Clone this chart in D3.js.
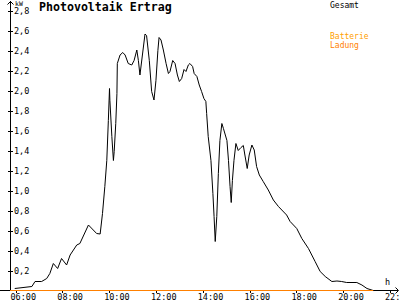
<!DOCTYPE html>
<html>
<head>
<meta charset="utf-8">
<script src="https://cdn.jsdelivr.net/npm/d3@7"></script>
<style>
  body { margin: 0; background: #fff; }
  svg { display: block; }
  text { font-family: "DejaVu Sans Mono", monospace; }
</style>
</head>
<body>
<div class="chart"></div>
<script>
// Gesamt (kW) ueber die Uhrzeit
var zeiten = ["05:58","06:42","06:50","07:07","07:20","07:28","07:37","07:48","07:58","08:11",
  "08:20","08:37","08:45","09:07","09:28","09:37","09:43","09:49","09:54","09:58",
  "10:01","10:02","10:07","10:11","10:13","10:17","10:20","10:21","10:28","10:35",
  "10:41","10:49","10:58","11:04","11:11","11:15","11:19","11:32","11:36","11:43",
  "11:49","11:55","12:00","12:05","12:08","12:13","12:19","12:26","12:32","12:36",
  "12:43","12:49","12:55","13:00","13:06","13:12","13:17","13:23","13:27","13:34",
  "13:38","13:45","13:51","13:57","14:03","14:08","14:10","14:14","14:21","14:26",
  "14:29","14:32","14:36","14:40","14:44","14:49","14:53","15:02","15:06","15:10",
  "15:13","15:16","15:20","15:25","15:31","15:38","15:44","15:48","15:54","15:59",
  "16:06","16:12","16:18","16:25","16:35","16:48","17:01","17:14","17:35","17:44",
  "18:01","18:14","18:31","18:48","19:01","19:14","19:31","19:44","19:56","20:09",
  "20:35","20:48","21:01","21:17"];
var gesamt = [0.02,0.04,0.09,0.09,0.12,0.17,0.27,0.22,0.32,0.255,
  0.355,0.455,0.47,0.655,0.57,0.565,0.77,1.04,1.3,1.7,
  2.02,1.9,1.54,1.3,1.39,1.67,1.97,2.27,2.355,2.38,
  2.355,2.27,2.255,2.3,2.405,2.3,2.155,2.565,2.55,2.3,
  1.99,1.905,2.1,2.4,2.53,2.505,2.405,2.27,2.17,2.19,
  2.3,2.27,2.155,2.09,2.12,2.21,2.19,2.255,2.27,2.24,
  2.17,2.14,2.055,1.99,1.92,1.89,1.77,1.54,1.3,0.97,
  0.74,0.49,0.74,1.17,1.5,1.67,1.62,1.5,1.3,1.04,
  0.88,1.1,1.3,1.47,1.4,1.43,1.45,1.355,1.22,1.355,
  1.455,1.405,1.24,1.155,1.09,1.005,0.905,0.84,0.755,0.69,
  0.62,0.52,0.42,0.29,0.19,0.14,0.09,0.095,0.09,0.08,
  0.08,0.055,0.02,0];

// Batterie Ladung (kW)
var ladungZeiten = ["05:46","21:17"];
var ladung = [0, 0];

var xTicks = [6, 8, 10, 12, 14, 16, 18, 20, 22];
var yTicks = [0.2,0.4,0.6,0.8,1.0,1.2,1.4,1.6,1.8,2.0,2.2,2.4,2.6,2.8];

function stunden(s) {
  var p = s.split(":");
  return +p[0] + p[1] / 60;
}

var w = 400, h = 300;
var svg = d3.select(".chart").append("svg")
  .attr("width", w).attr("height", h);

var x = d3.scaleLinear().domain([6, 22]).range([15.5, 390]);
var y = d3.scaleLinear().domain([0, 2.8]).range([290.5, 10.5]);

// axes
svg.append("line").attr("x1", 10.5).attr("x2", 10.5).attr("y1", 1).attr("y2", 291)
  .attr("stroke", "#000").attr("shape-rendering", "crispEdges");
svg.append("line").attr("x1", 0).attr("x2", 398).attr("y1", 290.5).attr("y2", 290.5)
  .attr("stroke", "#000").attr("shape-rendering", "crispEdges");
svg.append("path").attr("d", "M7.5,4.5L10.5,1.5L13.5,4.5")
  .attr("fill", "none").attr("stroke", "#000");
svg.append("path").attr("d", "M395.5,287.5L398.5,290.5L395.5,293.5")
  .attr("fill", "none").attr("stroke", "#000");

var yAxis = d3.axisRight(y).tickValues(yTicks).tickSize(0).tickPadding(4)
  .tickFormat(function(d) { return d3.format(".1f")(d).replace(".", ","); });
var gy = svg.append("g").attr("transform", "translate(10,0)").call(yAxis);
gy.select(".domain").remove();
gy.selectAll("text").attr("font-size", "8.5px").attr("font-family", "DejaVu Sans Mono").attr("fill", "#000");
gy.selectAll(".tick").append("line").attr("x1", -2).attr("x2", 3)
  .attr("stroke", "#000").attr("shape-rendering", "crispEdges");

var xAxis = d3.axisBottom(x).tickValues(xTicks).tickSize(3).tickPadding(1)
  .tickFormat(function(d) { return (d < 10 ? "0" : "") + d + ":00"; });
var gx = svg.append("g").attr("transform", "translate(0,290)").call(xAxis);
gx.select(".domain").remove();
gx.selectAll("line").attr("stroke", "#000").attr("shape-rendering", "crispEdges");
gx.selectAll("text").attr("font-size", "8.5px").attr("font-family", "DejaVu Sans Mono")
  .attr("fill", "#000").attr("text-anchor", "start").attr("dx", "-5.5px");

// lines
var line = d3.line()
  .x(function(d) { return x(d[0]); })
  .y(function(d) { return y(d[1]); });

svg.append("path")
  .datum(zeiten.map(function(t, i) { return [stunden(t), gesamt[i]]; }))
  .attr("d", line).attr("fill", "none").attr("stroke", "#000").attr("stroke-width", 1);

svg.append("path")
  .datum(ladungZeiten.map(function(t, i) { return [stunden(t), ladung[i]]; }))
  .attr("d", line).attr("fill", "none").attr("stroke", "#ff8000").attr("stroke-width", 1.2);

// texts
svg.append("text").attr("x", 39).attr("y", 11).attr("font-size", "11.6px")
  .attr("font-weight", "bold").text("Photovoltaik Ertrag");
svg.append("text").attr("x", 15).attr("y", 6).attr("font-size", "6.5px").text("kW");
svg.append("text").attr("x", 385).attr("y", 285).attr("font-size", "8.5px").text("h");
svg.append("text").attr("x", 330).attr("y", 7.5).attr("font-size", "8px").text("Gesamt");
svg.append("text").attr("x", 330).attr("y", 38.5).attr("font-size", "8px")
  .attr("fill", "#ffa000").text("Batterie");
svg.append("text").attr("x", 330).attr("y", 47.5).attr("font-size", "8px")
  .attr("fill", "#ff8000").text("Ladung");
</script>
</body>
</html>
